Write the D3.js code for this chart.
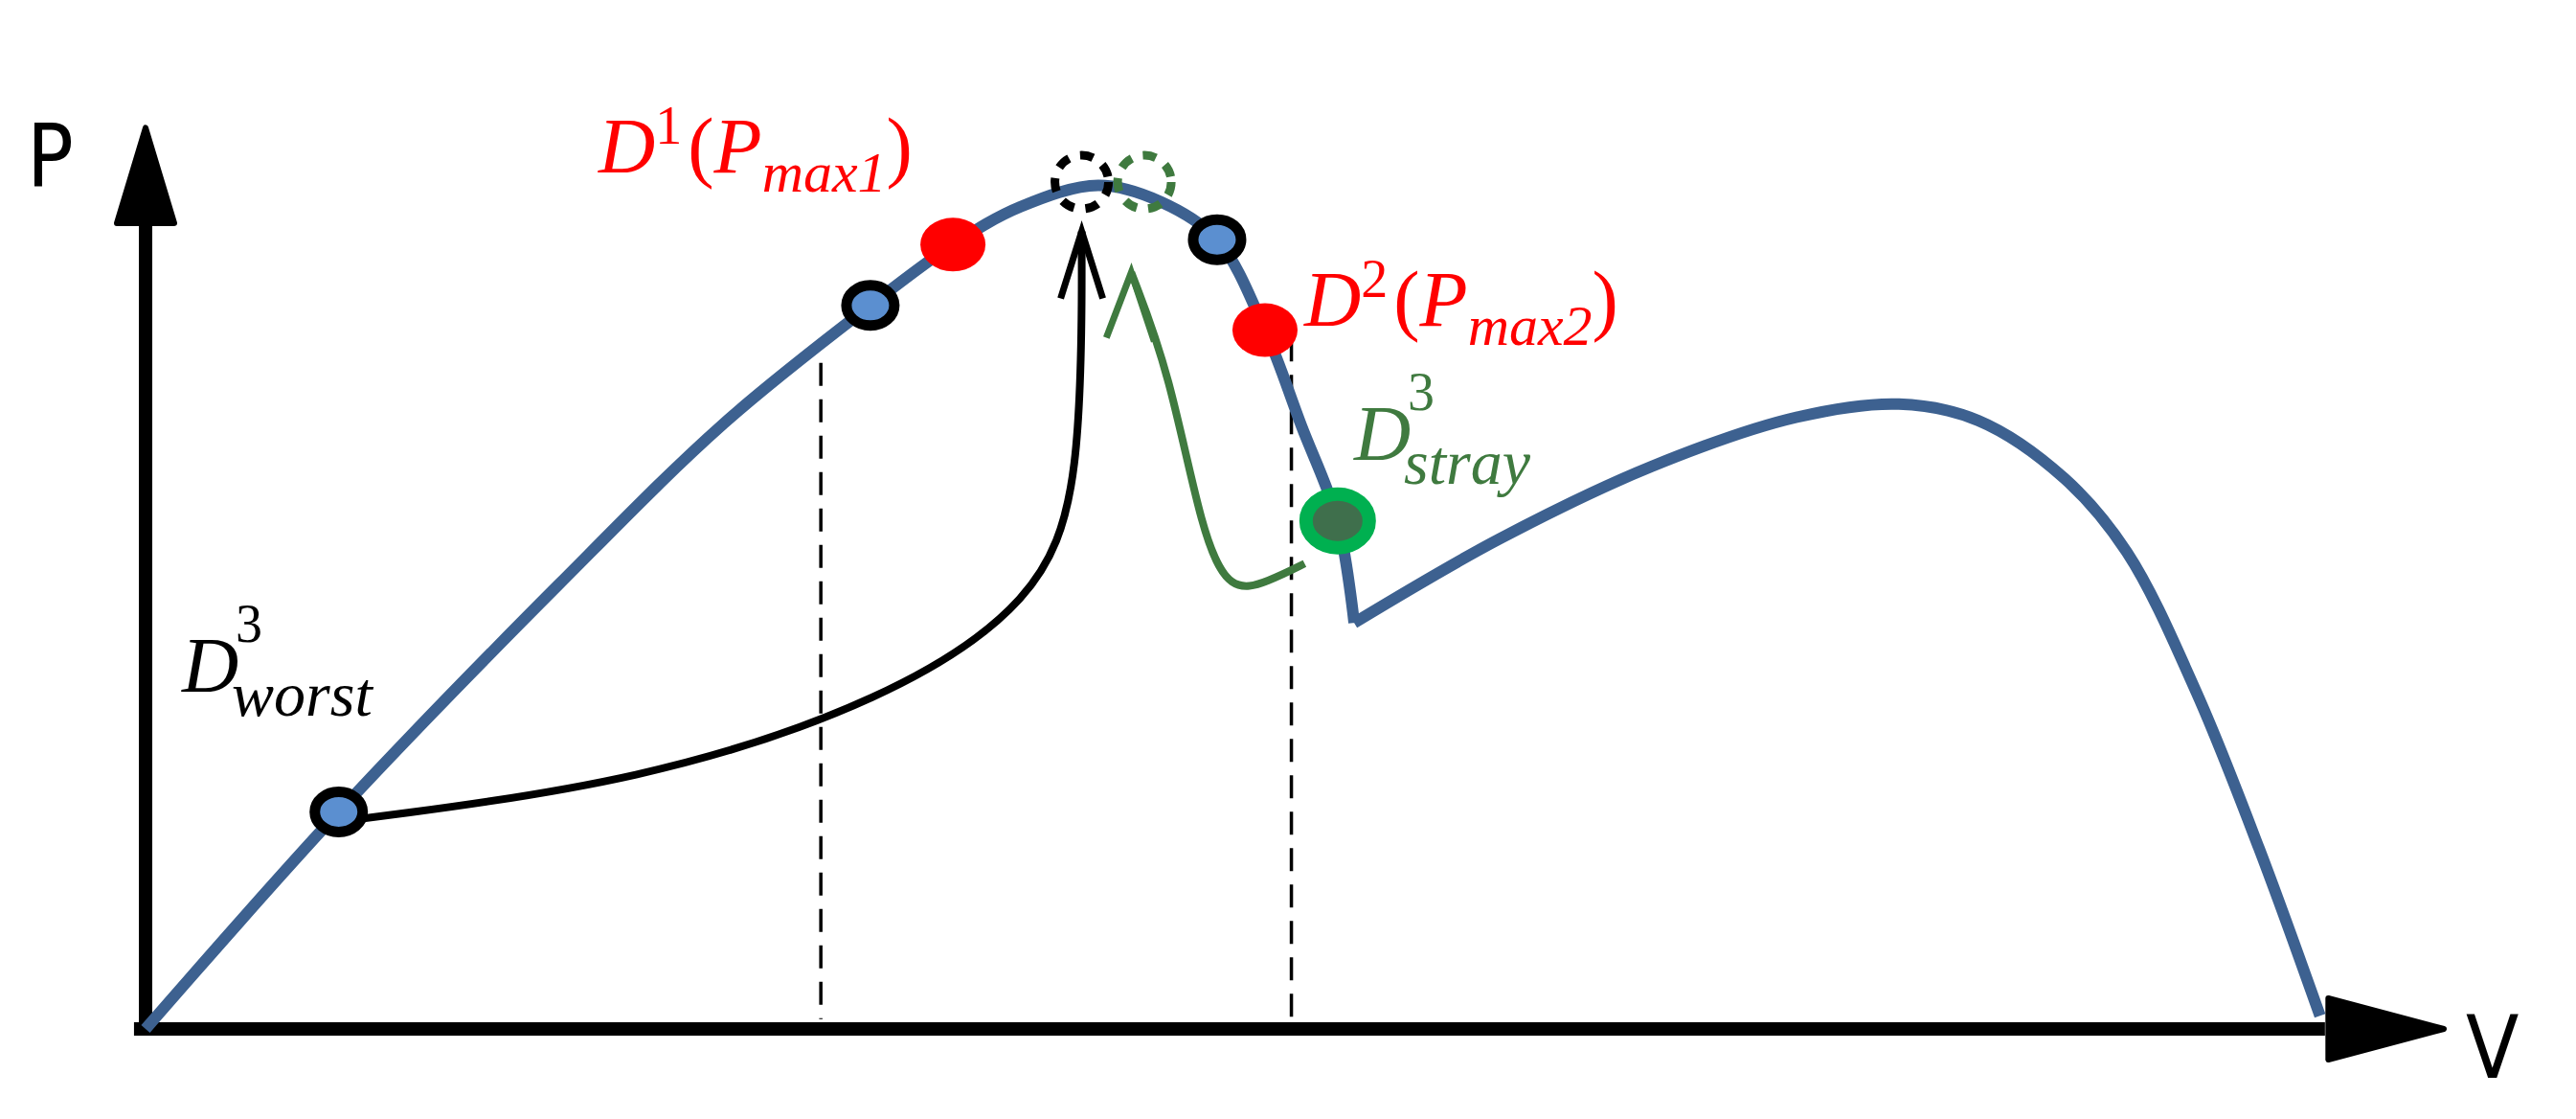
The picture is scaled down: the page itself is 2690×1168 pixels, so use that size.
<!DOCTYPE html>
<html><head><meta charset="utf-8">
<script src="https://cdn.jsdelivr.net/npm/d3@7"></script>
<style>body{margin:0;background:#fff}svg{display:block}</style></head>
<body><svg id="c" width="2690" height="1168"></svg>
<script>
// values in chart units: V (horizontal), P (vertical)
const curveLeft = [[0,0],[117,132],[250,270],[350,368],[439,440],[489,477],[530,500],[577,513],[615,503],[649,480],[678,425],[700,367],[722,309],[732,247]];
const curveRight = [[732,247],[820,298],[912,342],[1000,372],[1062,380],[1110,370],[1162,335],[1200,290],[1242,205],[1280,110],[1317,8]];
const blueMarks = [[117,132],[439,440],[649,480]];
const redMarks = [[489,477],[678,425]];
const greenMarks = [[722,309]];
const dashedV = [[409,405],[694,420]];
const blackArrow = [[132,128],[300,150],[450,200],[540,260],[567,330],[567,485]];
const greenArrow = [[702,283],[680,272],[657,265],[640,300],[620,400],[597,460]];
const ghostBlack = [567,515], ghostGreen = [605,515];

const svg = d3.select("#c");
const x = d3.scaleLinear().domain([0,1392]).range([152,2552]);
const y = d3.scaleLinear().domain([0,550]).range([1074,130]);
const blue = "#3d6190";

dashedV.forEach(d=>svg.append("line").attr("x1",x(d[0])).attr("x2",x(d[0])).attr("y1",y(d[1])).attr("y2",y(6))
  .attr("stroke","#000").attr("stroke-width",3.5).attr("stroke-dasharray","24,14"));

svg.append("line").attr("x1",x(0)).attr("y1",y(0)).attr("x2",x(0)).attr("y2",y(500)).attr("stroke","#000").attr("stroke-width",14);
svg.append("line").attr("x1",x(-7)).attr("y1",y(0)).attr("x2",x(1320)).attr("y2",y(0)).attr("stroke","#000").attr("stroke-width",14);
svg.append("path").attr("d",`M${x(0)-30},${y(490)} L${x(0)},${y(548)} L${x(0)+30},${y(490)} Z`).attr("fill","#000").attr("stroke","#000").attr("stroke-width",6).attr("stroke-linejoin","round");
svg.append("path").attr("d",`M${x(1322)},${y(0)-32} L${x(1392)},${y(0)} L${x(1322)},${y(0)+32} Z`).attr("fill","#000").attr("stroke","#000").attr("stroke-width",6).attr("stroke-linejoin","round");

const line = d3.line().x(d=>x(d[0])).y(d=>y(d[1])).curve(d3.curveCatmullRom);
svg.append("path").attr("d",line(curveLeft)+line(curveRight)).attr("fill","none").attr("stroke",blue).attr("stroke-width",12).attr("stroke-linejoin","miter");

const arrowLine = d3.line().x(d=>x(d[0])).y(d=>y(d[1])).curve(d3.curveBasis);
svg.append("path").attr("d",arrowLine(blackArrow)).attr("fill","none").attr("stroke","#000").attr("stroke-width",8);
const bt = blackArrow[blackArrow.length-1];
svg.append("path").attr("d",`M${x(bt[0])-22},${y(bt[1])+70} L${x(bt[0])},${y(bt[1])} L${x(bt[0])+22},${y(bt[1])+70}`).attr("fill","none").attr("stroke","#000").attr("stroke-width",7);
svg.append("path").attr("d",arrowLine(greenArrow)).attr("fill","none").attr("stroke","#3f7a3f").attr("stroke-width",8);
const gt = greenArrow[greenArrow.length-1];
svg.append("path").attr("d",`M${x(gt[0])-26},${y(gt[1])+68} L${x(gt[0])},${y(gt[1])} L${x(gt[0])+24},${y(gt[1])+72}`).attr("fill","none").attr("stroke","#3f7a3f").attr("stroke-width",7);

[[ghostBlack,"#000"],[ghostGreen,"#3f7a3f"]].forEach(([p,c])=>svg.append("circle").attr("cx",x(p[0])).attr("cy",y(p[1])).attr("r",28)
  .attr("fill","none").attr("stroke",c).attr("stroke-width",9).attr("stroke-dasharray","14,12"));

blueMarks.forEach(d=>svg.append("ellipse").attr("cx",x(d[0])).attr("cy",y(d[1])).attr("rx",25).attr("ry",21).attr("fill","#5b8fd0").attr("stroke","#000").attr("stroke-width",11));
redMarks.forEach(d=>svg.append("ellipse").attr("cx",x(d[0])).attr("cy",y(d[1])).attr("rx",34).attr("ry",28).attr("fill","#ff0000"));
greenMarks.forEach(d=>svg.append("ellipse").attr("cx",x(d[0])).attr("cy",y(d[1])).attr("rx",33).attr("ry",28).attr("fill","#3f6f4c").attr("stroke","#00b050").attr("stroke-width",14));

const F = "'Liberation Serif','DejaVu Serif',serif";
function lab(px,py,color,parts){
  const t = svg.append("text").attr("x",px).attr("y",py).attr("fill",color).attr("font-family",F).attr("font-style","italic").attr("font-size",82);
  parts.forEach(p=>{const s=t.append("tspan").text(p.t); if(p.fs) s.attr("font-size",p.fs); if(p.dy) s.attr("dy",p.dy); if(p.dx) s.attr("dx",p.dx); if(p.n) s.attr("font-style","normal");});
}
lab(625,180,"#ff0000",[{t:"D"},{t:"1",fs:56,dy:-30,n:1},{t:"(",dy:30,n:1,dx:6},{t:"P"},{t:"max1",fs:60,dy:20},{t:")",dy:-20,n:1}]);
lab(1362,340,"#ff0000",[{t:"D"},{t:"2",fs:56,dy:-30,n:1},{t:"(",dy:30,n:1,dx:6},{t:"P"},{t:"max2",fs:60,dy:20},{t:")",dy:-20,n:1}]);
function sub(px,py,color,sup,s){
  svg.append("text").attr("x",px).attr("y",py).attr("fill",color).attr("font-family",F).attr("font-size",82).attr("font-style","italic").text("D");
  svg.append("text").attr("x",px+56).attr("y",py-52).attr("fill",color).attr("font-family",F).attr("font-size",56).text(sup);
  svg.append("text").attr("x",px+52).attr("y",py+25).attr("fill",color).attr("font-family",F).attr("font-size",66).attr("font-style","italic").text(s);
}
sub(1414,480,"#3f7a3f","3","stray");
sub(190,722,"#000","3","worst");
const S = "'DejaVu Sans Condensed','DejaVu Sans',sans-serif";
svg.append("text").attr("x",28).attr("y",195).attr("font-family",S).attr("font-size",90).text("P");
svg.append("text").attr("x",2575).attr("y",1125).attr("font-family",S).attr("font-size",90).text("V");
</script></body></html>
